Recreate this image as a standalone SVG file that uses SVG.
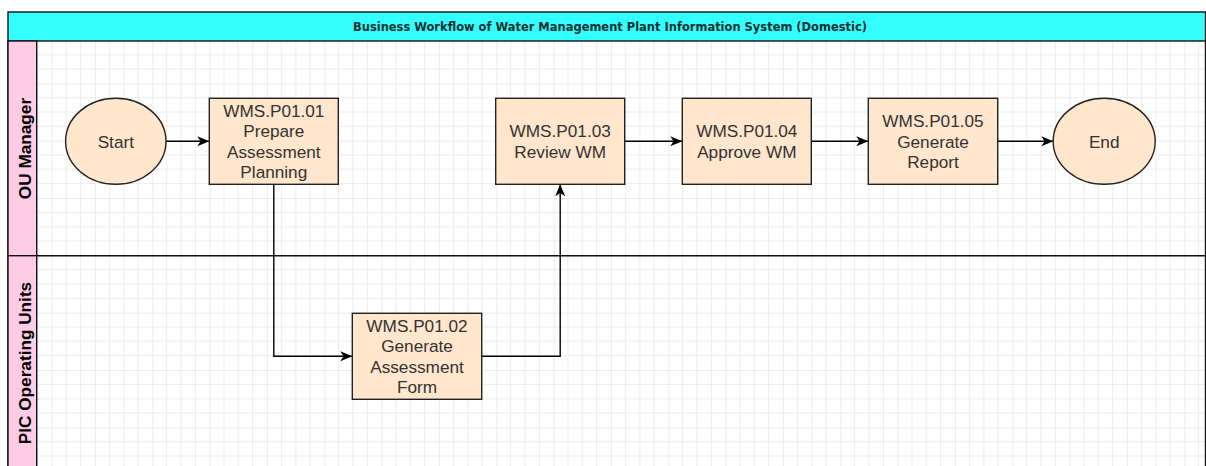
<svg xmlns="http://www.w3.org/2000/svg" width="1206" height="466" viewBox="0 0 1206 466">
  <style>
    .node { fill: #FFE6CC; stroke: #222; stroke-width: 1.4; }
    .ntext { font-family: "Liberation Sans", Arial, sans-serif; font-size: 17.2px; fill: #333; text-anchor: middle; }
    .lane { fill: #FFCCE6; stroke: #111; stroke-width: 1.4; }
    .ltext { font-family: "Liberation Sans", Arial, sans-serif; font-size: 17.2px; font-weight: bold; fill: #000; text-anchor: middle; }
    .conn { fill: none; stroke: #000; stroke-width: 1.4; marker-end: url(#arrow); }
  </style>
  <defs>
    <pattern id="grid" patternUnits="userSpaceOnUse" x="37.667" y="26" width="57.333" height="57.333">
      <path d="M14.333 0V57.333M28.667 0V57.333M43 0V57.333M0 14.333H57.333M0 28.667H57.333M0 43H57.333" stroke="#ececec" stroke-width="1" fill="none"/>
      <path d="M0 0V57.333M0 0H57.333" stroke="#dcdcdc" stroke-width="1" fill="none"/>
    </pattern>
    <marker id="arrow" markerUnits="userSpaceOnUse" markerWidth="13" markerHeight="11" refX="12" refY="5" orient="auto">
      <path d="M0 0L12 5L0 10L3.2 5Z" fill="#000"/>
    </marker>
  </defs>

  <rect x="0" y="0" width="1206" height="466" fill="#fff"/>

  <g id="pool">
    <rect x="37" y="41" width="1168.5" height="430" fill="url(#grid)"/>
    <rect x="8" y="12" width="1197.5" height="29" fill="#33FFFF" stroke="#111" stroke-width="1.4"/>
    <text x="610" y="30.7" font-family="'DejaVu Sans', Verdana, sans-serif" font-size="11.47" font-weight="bold" fill="#103030" text-anchor="middle">Business Workflow of Water Management Plant Information System (Domestic)</text>
    <line x1="8" y1="41" x2="8" y2="470" stroke="#111" stroke-width="1.4"/>
    <line x1="1205.5" y1="41" x2="1205.5" y2="470" stroke="#111" stroke-width="1.4"/>
  </g>

  <g id="lane-ou-manager">
    <rect class="lane" x="8" y="41" width="28.7" height="214.7"/>
    <line x1="8" y1="255.7" x2="1205.5" y2="255.7" stroke="#111" stroke-width="1.4"/>
    <text class="ltext" transform="translate(30.8 148.5) rotate(-90)">OU Manager</text>
  </g>

  <g id="lane-pic-operating-units">
    <rect class="lane" x="8" y="255.7" width="28.7" height="215"/>
    <text class="ltext" transform="translate(30.8 363) rotate(-90)">PIC Operating Units</text>
  </g>

  <g id="connectors">
    <path class="conn" d="M166 141.3H209.3"/>
    <path class="conn" d="M273.8 184.3V356.3H352.3"/>
    <path class="conn" d="M481.7 356.3H560.2V184.3"/>
    <path class="conn" d="M624.7 141.3H682.3"/>
    <path class="conn" d="M811.3 141.3H868.3"/>
    <path class="conn" d="M997.7 141.3H1053.3"/>
  </g>

  <g id="start">
    <ellipse class="node" cx="115.8" cy="141.3" rx="50.2" ry="43"/>
    <text class="ntext" x="115.8" y="147.5">Start</text>
  </g>

  <g id="p01-01">
    <rect class="node" x="209.3" y="98.3" width="129" height="86"/>
    <text class="ntext" x="273.8" y="116.6">WMS.P01.01</text>
    <text class="ntext" x="273.8" y="137.2">Prepare</text>
    <text class="ntext" x="273.8" y="157.8">Assessment</text>
    <text class="ntext" x="273.8" y="178.4">Planning</text>
  </g>

  <g id="p01-02">
    <rect class="node" x="352.3" y="313.3" width="129.4" height="86"/>
    <text class="ntext" x="417" y="331.6">WMS.P01.02</text>
    <text class="ntext" x="417" y="352.2">Generate</text>
    <text class="ntext" x="417" y="372.8">Assessment</text>
    <text class="ntext" x="417" y="393.4">Form</text>
  </g>

  <g id="p01-03">
    <rect class="node" x="495.7" y="98.3" width="129" height="86"/>
    <text class="ntext" x="560.2" y="137.2">WMS.P01.03</text>
    <text class="ntext" x="560.2" y="157.8">Review WM</text>
  </g>

  <g id="p01-04">
    <rect class="node" x="682.3" y="98.3" width="129" height="86"/>
    <text class="ntext" x="746.8" y="137.2">WMS.P01.04</text>
    <text class="ntext" x="746.8" y="157.8">Approve WM</text>
  </g>

  <g id="p01-05">
    <rect class="node" x="868.3" y="98.3" width="129.4" height="86"/>
    <text class="ntext" x="933" y="126.9">WMS.P01.05</text>
    <text class="ntext" x="933" y="147.5">Generate</text>
    <text class="ntext" x="933" y="168.1">Report</text>
  </g>

  <g id="end">
    <ellipse class="node" cx="1104.2" cy="141.3" rx="51" ry="43"/>
    <text class="ntext" x="1104.2" y="147.5">End</text>
  </g>
</svg>
